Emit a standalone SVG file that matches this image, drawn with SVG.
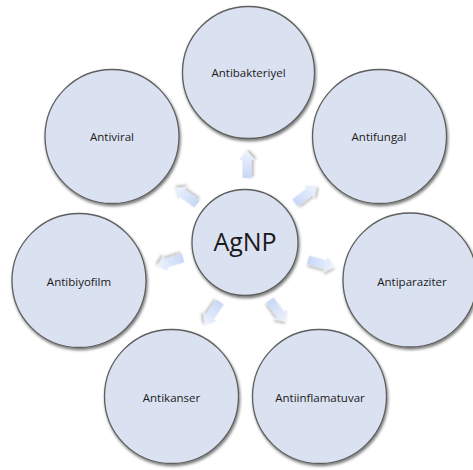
<svg xmlns="http://www.w3.org/2000/svg" width="473" height="470" viewBox="0 0 473 470">
<defs>
<filter id="sh" x="-20%" y="-20%" width="140%" height="140%">
<feGaussianBlur in="SourceAlpha" stdDeviation="1.6"/>
<feOffset dx="0.5" dy="1.5" result="b"/>
<feComponentTransfer><feFuncA type="linear" slope="0.55"/></feComponentTransfer>
<feMerge><feMergeNode/><feMergeNode in="SourceGraphic"/></feMerge>
</filter>
<filter id="ash" x="-50%" y="-50%" width="200%" height="200%">
<feGaussianBlur in="SourceAlpha" stdDeviation="1.5"/>
<feOffset dx="1" dy="2" result="b"/>
<feComponentTransfer><feFuncA type="linear" slope="0.3"/></feComponentTransfer>
<feMerge><feMergeNode/><feMergeNode in="SourceGraphic"/></feMerge>
</filter>
<linearGradient id="ag" x1="0" y1="0" x2="1" y2="0">
<stop offset="0" stop-color="#c8d7f7"/>
<stop offset="1" stop-color="#eef3fd"/>
</linearGradient>
<path id="arr" d="M0,-4.5 L18,-4.5 L18,-8 L27,0 L18,8 L18,4.5 L0,4.5 Z"/>
</defs>
<style>
.n circle{fill:#dae1f0;stroke:#5f5f5f;stroke-width:1.3;filter:url(#sh)}
.n text{font-family:"Open Sans","Liberation Sans",sans-serif;font-size:11.5px;fill:#1a1a1a;text-anchor:middle;dominant-baseline:central}
#agnp text{font-size:25px}
.c use{fill:url(#ag);filter:url(#ash)}
</style>
<rect width="473" height="470" fill="#ffffff"/>
<g id="connectors" class="c">
<use href="#arr" transform="translate(247,178) rotate(-90)"/>
<use href="#arr" transform="translate(295,203) rotate(-37.7)"/>
<use href="#arr" transform="translate(197,204) rotate(-144)"/>
<use href="#arr" transform="translate(308,260) rotate(15)"/>
<use href="#arr" transform="translate(183,258) rotate(163)"/>
<use href="#arr" transform="translate(220,302) rotate(124)"/>
<use href="#arr" transform="translate(270,300) rotate(53.5)"/>
</g>
<g id="antibakteriyel" class="n"><circle cx="248.5" cy="72.5" r="66"/><text x="248.5" y="72">Antibakteriyel</text></g>
<g id="antiviral" class="n"><circle cx="112" cy="136.5" r="67"/><text x="112" y="136">Antiviral</text></g>
<g id="antifungal" class="n"><circle cx="379.5" cy="136.5" r="67"/><text x="379" y="136">Antifungal</text></g>
<g id="antibiyofilm" class="n"><circle cx="79" cy="280.5" r="67"/><text x="79" y="281">Antibiyofilm</text></g>
<g id="antiparaziter" class="n"><circle cx="410" cy="280" r="67"/><text x="412" y="281">Antiparaziter</text></g>
<g id="antikanser" class="n"><circle cx="171.5" cy="396.5" r="67"/><text x="171.5" y="397">Antikanser</text></g>
<g id="antiinflamatuvar" class="n"><circle cx="319.5" cy="396.5" r="67"/><text x="320" y="397">Antiinflamatuvar</text></g>
<g id="agnp" class="n"><circle cx="245" cy="242.5" r="53"/><text x="245" y="241">AgNP</text></g>
</svg>
